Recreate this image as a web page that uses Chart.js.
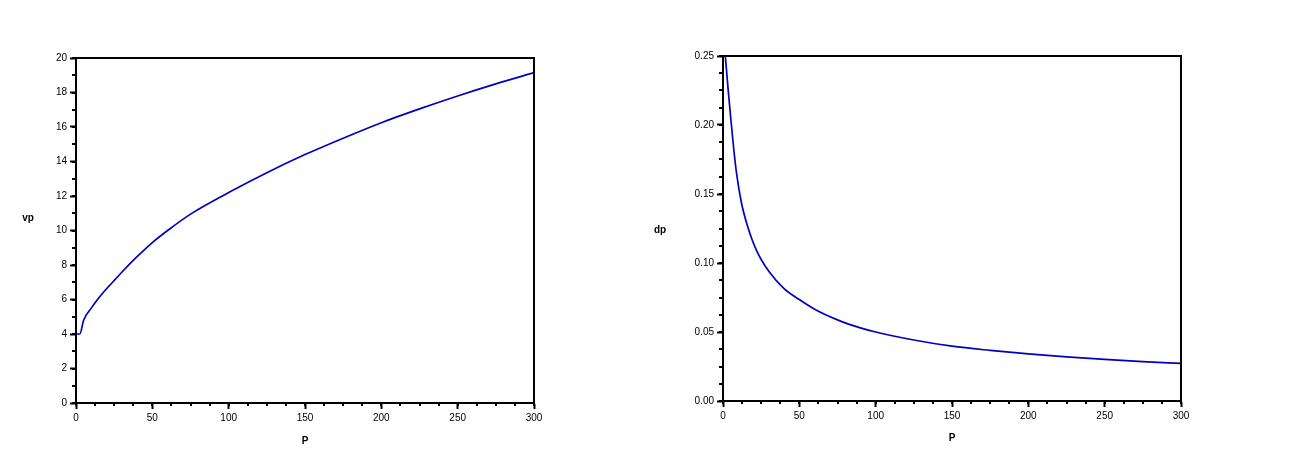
<!DOCTYPE html>
<html>
<head>
<meta charset="utf-8">
<script src="https://cdn.jsdelivr.net/npm/chart.js@4"></script>
<style>
  html, body { margin: 0; padding: 0; background: #fff; }
  #wrap { position: relative; width: 1304px; height: 461px; overflow: hidden; }
  canvas { position: absolute; top: 0; }
  #c1 { left: 0; }
  #c2 { left: 652px; }
</style>
</head>
<body>
<div id="wrap">
  <canvas id="c1" width="652" height="461"></canvas>
  <canvas id="c2" width="652" height="461"></canvas>
</div>
<script>
// ---- data ----
const vpP      = [0, 2.5, 5, 10, 15, 20, 25, 30, 40, 50, 60, 75, 100, 125, 150, 175, 200, 225, 250, 275, 300];
const vpValues = [4.0, 4.0, 4.8, 5.5, 6.1, 6.62, 7.1, 7.58, 8.48, 9.3, 10.0, 10.95, 12.2, 13.35, 14.4, 15.35, 16.25, 17.05, 17.8, 18.5, 19.15];

const dpP      = [1.5, 2.5, 3.5, 5, 7, 9, 12, 16, 22, 30, 40, 50, 60, 75, 90, 100, 125, 150, 175, 200, 225, 250, 275, 300];
const dpValues = [0.25, 0.237, 0.224, 0.206, 0.183, 0.164, 0.144, 0.127, 0.109, 0.094, 0.0815, 0.0735, 0.0665, 0.0588, 0.053, 0.050, 0.0442, 0.0397, 0.0367, 0.0342, 0.032, 0.0301, 0.0286, 0.0272];

const xTicks   = [0, 50, 100, 150, 200, 250, 300];
const vpTicks  = [0, 2, 4, 6, 8, 10, 12, 14, 16, 18, 20];
const dpTicks  = [0, 0.05, 0.10, 0.15, 0.20, 0.25];

const FONT = "'Liberation Sans', Arial, sans-serif";
const LINE_COLOR = '#0000c0';

function pts(xs, ys) { return xs.map((x, i) => ({ x: x, y: ys[i] })); }

// frame, minor ticks and axis titles
const decor = {
  id: 'decor',
  afterDraw(chart, args, o) {
    const ctx = chart.ctx, a = chart.chartArea;
    const xs = chart.scales.x, ys = chart.scales.y;
    ctx.save();
    ctx.strokeStyle = '#000';
    ctx.lineWidth = 2;
    ctx.beginPath();
    ctx.moveTo(a.left, a.top); ctx.lineTo(a.right, a.top); ctx.lineTo(a.right, a.bottom);
    ctx.stroke();
    // minor ticks
    ctx.lineWidth = 2;
    ctx.beginPath();
    for (let v = xs.min; v <= xs.max + 1e-9; v += o.xMinor) {
      const px = Math.round(xs.getPixelForValue(v));
      ctx.moveTo(px, a.bottom); ctx.lineTo(px, a.bottom + 3);
    }
    for (let v = ys.min; v <= ys.max + 1e-9; v += o.yMinor) {
      const py = Math.round(ys.getPixelForValue(v));
      ctx.moveTo(a.left, py); ctx.lineTo(a.left - 4, py);
    }
    ctx.stroke();
    // axis titles
    ctx.fillStyle = '#000';
    ctx.font = 'bold 10px ' + FONT;
    ctx.textAlign = 'center';
    ctx.textBaseline = 'middle';
    ctx.fillText(o.xTitle, (a.left + a.right) / 2, o.xTitleY);
    ctx.fillText(o.yTitle, o.yTitleX, o.yTitleY);
    ctx.restore();
  }
};

function makeChart(id, cfg) {
  return new Chart(document.getElementById(id), {
    type: 'line',
    data: {
      datasets: [{
        data: cfg.data,
        borderColor: LINE_COLOR,
        borderWidth: 1.7,
        pointRadius: 0,
        cubicInterpolationMode: 'monotone',
        fill: false
      }]
    },
    options: {
      responsive: false,
      animation: false,
      devicePixelRatio: 1,
      layout: { padding: { left: 0, top: cfg.top, right: cfg.right, bottom: 0 } },
      plugins: {
        legend: { display: false },
        tooltip: { enabled: false },
        decor: cfg.decor
      },
      scales: {
        x: {
          type: 'linear',
          min: 0, max: 300,
          afterBuildTicks: (s) => { s.ticks = xTicks.map(v => ({ value: v })); },
          afterFit: (s) => { s.height = cfg.xHeight; },
          ticks: {
            color: '#000', font: { family: FONT, size: 10 }, padding: 3,
            maxRotation: 0, autoSkip: false,
            callback: (v) => String(v)
          },
          grid: { drawOnChartArea: false, drawTicks: true, tickLength: 6, tickWidth: 2, tickColor: '#000' },
          border: { display: true, color: '#000', width: 2 }
        },
        y: {
          type: 'linear',
          min: cfg.yMin, max: cfg.yMax,
          afterBuildTicks: (s) => { s.ticks = cfg.yTicks.map(v => ({ value: v })); },
          afterFit: (s) => { s.width = cfg.yWidth; },
          ticks: {
            color: '#000', font: { family: FONT, size: 10 }, padding: 3,
            autoSkip: false,
            callback: cfg.yFmt
          },
          grid: { drawOnChartArea: false, drawTicks: true, tickLength: 6, tickWidth: 2, tickColor: '#000' },
          border: { display: true, color: '#000', width: 2 }
        }
      }
    },
    plugins: [decor]
  });
}

makeChart('c1', {
  data: pts(vpP, vpValues),
  top: 58, right: 118, yWidth: 76, xHeight: 58,
  yMin: 0, yMax: 20, yTicks: vpTicks,
  yFmt: (v) => String(v),
  decor: { xMinor: 12.5, yMinor: 1, xTitle: 'P', xTitleY: 441, yTitle: 'vp', yTitleX: 28, yTitleY: 218 }
});

makeChart('c2', {
  data: pts(dpP, dpValues),
  top: 56, right: 123, yWidth: 71, xHeight: 60,
  yMin: 0, yMax: 0.25, yTicks: dpTicks,
  yFmt: (v) => Number(v).toFixed(2),
  decor: { xMinor: 12.5, yMinor: 0.0125, xTitle: 'P', xTitleY: 438, yTitle: 'dp', yTitleX: 8, yTitleY: 230 }
});
</script>
</body>
</html>
